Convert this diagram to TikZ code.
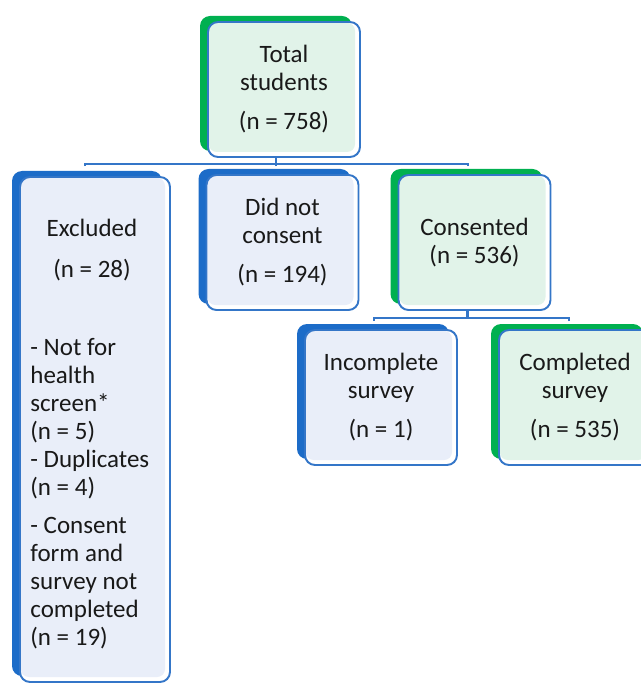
\documentclass[tikz,border=0pt]{standalone}
\usepackage{fontspec}
\setmainfont{Carlito}
\usetikzlibrary{shadows,calc,positioning}
\definecolor{trait}{HTML}{3476C8}
\definecolor{ombrebleu}{HTML}{1C6CC8}
\definecolor{ombrevert}{HTML}{00B050}
\definecolor{fondbleu}{HTML}{E9EEF9}
\definecolor{fondvert}{HTML}{E1F3E9}
\tikzset{
  texte/.style={inner sep=0pt, align=center, text=black!90, font=\fontsize{12.5}{14}\selectfont},
  boite/.style={texte, draw=trait, line width=0.95pt, fill=white, rounded corners=5pt,
    minimum width=76pt, minimum height=67.5pt},
  bleue/.style={boite,
    drop shadow={shadow xshift=-4pt, shadow yshift=3pt, opacity=1, fill=ombrebleu, draw=none},
    path picture={\fill[fondbleu, rounded corners=4pt]
      ([shift={(0.4pt,-0.4pt)}]path picture bounding box.north west) rectangle
      ([shift={(-2.5pt,2.5pt)}]path picture bounding box.south east);}},
  verte/.style={boite,
    drop shadow={shadow xshift=-4pt, shadow yshift=3pt, opacity=1, fill=ombrevert, draw=none},
    path picture={\fill[fondvert, rounded corners=4pt]
      ([shift={(0.4pt,-0.4pt)}]path picture bounding box.north west) rectangle
      ([shift={(-2.5pt,2.5pt)}]path picture bounding box.south east);}},
  lien/.style={draw=trait, line width=1.25pt},
}
\begin{document}
\begin{tikzpicture}[x=0.5pt,y=-0.5pt]
  % Cadre de l'image
  \path[use as bounding box, clip] (0,0) rectangle (641,684);

  % Les boites
  \node[verte] (total) at (284,89.5) {Total\\students\\[5.5pt](n = 758)};
  \node[bleue, minimum width=75pt, minimum height=252.5pt] (exclu) at (95,429.5) {};
  \node[bleue] (refus) at (282.5,242.5) {Did not\\consent\\[5.5pt](n = 194)};
  \node[verte] (accord) at (474.5,242.5) {Consented\\(n = 536)};
  \node[bleue] (incomplet) at (381,397.5) {Incomplete\\survey\\[5.5pt](n = 1)};
  \node[verte] (complet) at (575,397.5) {Completed\\survey\\[5.5pt](n = 535)};

  % Texte des exclus
  \node[texte] (exclutitre) at (92,250.5) {Excluded\\[6.5pt](n = 28)};
  \node[texte, align=left, anchor=north west] (exclusliste) at (30,338)
    {- Not for\\health\\screen*\\(n = 5)\\- Duplicates\\(n = 4)\\[5pt]- Consent\\form and\\survey not\\completed\\(n = 19)};

  % Liens du premier niveau
  \coordinate (bus) at ($(total.south)+(0,-3pt)$);
  \draw[lien] ($(total.south)+(-4pt,0)$) -- ($(bus)+(-4pt,0)$);
  \foreach \n/\dx/\dy in {exclu/-5pt/5pt, refus/-3.25pt/4pt, accord/-3.25pt/4pt}
    \draw[lien] ($(\n.north)+(\dx,\dy)$) |- (bus);

  % Liens du second niveau
  \coordinate (bus2) at ($(accord.south)+(0,-3.5pt)$);
  \draw[lien] ($(accord.south)+(-3.5pt,0)$) -- ($(bus2)+(-3.5pt,0)$);
  \foreach \n/\dx in {incomplet/-3.5pt, complet/-3pt}
    \draw[lien] ($(\n.north)+(\dx,4pt)$) |- (bus2);
\end{tikzpicture}
\end{document}
